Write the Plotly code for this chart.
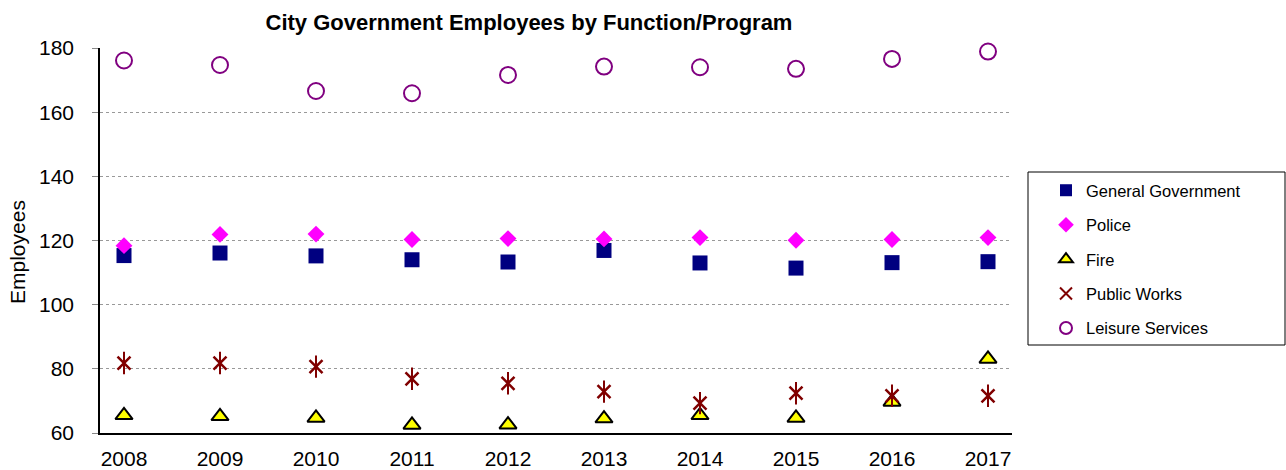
import plotly.graph_objects as go

years = [2008, 2009, 2010, 2011, 2012, 2013, 2014, 2015, 2016, 2017]
general_government = [115.3, 116.1, 115.2, 114.0, 113.3, 116.9, 113.0, 111.4, 113.1, 113.4]
police = [118.4, 121.9, 122.0, 120.3, 120.6, 120.5, 120.9, 120.1, 120.3, 120.9]
fire = [65.5, 65.2, 64.7, 62.5, 62.6, 64.5, 65.5, 64.7, 69.7, 83.1]
public_works = [81.8, 81.8, 80.7, 76.9, 75.5, 72.9, 69.3, 72.4, 71.6, 71.6]
leisure_services = [176.1, 174.7, 166.6, 165.9, 171.6, 174.2, 174.0, 173.5, 176.6, 178.9]

FONT = "Arial, Liberation Sans, sans-serif"

fig = go.Figure()
fig.add_trace(go.Scatter(x=years, y=general_government, mode="markers", name="General Government",
                         legendgroup="g1", cliponaxis=False,
                         marker=dict(symbol="square", size=15, color="#000080")))
fig.add_trace(go.Scatter(x=years, y=police, mode="markers", name="Police", legendgroup="g2",
                         cliponaxis=False,
                         marker=dict(symbol="diamond", size=13, color="#FF00FF")))
fig.add_trace(go.Scatter(x=years, y=fire, mode="markers", name="Fire", legendgroup="g3",
                         cliponaxis=False,
                         marker=dict(symbol="triangle-up", size=15, color="#FFFF00",
                                     line=dict(color="black", width=2))))
fig.add_trace(go.Scatter(x=years, y=public_works, mode="markers", name="Public Works", legendgroup="g4",
                         cliponaxis=False,
                         marker=dict(symbol="x-thin-open", size=13, color="#800000",
                                     line=dict(color="#800000", width=2.5))))
fig.add_trace(go.Scatter(x=years, y=public_works, mode="markers", name="Public Works", legendgroup="g4",
                         showlegend=False, hoverinfo="skip", cliponaxis=False,
                         marker=dict(symbol="line-ns-open", size=16, color="#800000",
                                     line=dict(color="#800000", width=2))))
fig.add_trace(go.Scatter(x=years, y=leisure_services, mode="markers", name="Leisure Services", legendgroup="g5",
                         cliponaxis=False,
                         marker=dict(symbol="circle-open", size=16, color="#800080",
                                     line=dict(color="#800080", width=2))))

PL, PR, PT, PB = 100, 1012, 48, 433
PW, PH = PR - PL, PB - PT

def px_x(x):
    return (x - PL) / PW

def px_y(y):
    return (PB - y) / PH

fig.update_layout(
    width=1286, height=470,
    margin=dict(l=PL, r=1286 - PR, t=PT, b=470 - PB, autoexpand=False),
    paper_bgcolor="white", plot_bgcolor="white",
    font=dict(family=FONT, color="black"),
    title=dict(text="<b>City Government Employees by Function/Program</b>",
               font=dict(size=22, family=FONT, color="black"),
               xref="paper", x=px_x(529), xanchor="center",
               yref="container", y=1 - 22 / 470, yanchor="middle"),
    xaxis=dict(range=[2007.75, 2017.25], tickmode="array", tickvals=years,
               ticktext=[str(y) for y in years], automargin=False,
               showgrid=False, zeroline=False, showline=True, linecolor="black", linewidth=1.5,
               ticks="", tickfont=dict(size=21), ticklabelstandoff=6),
    yaxis=dict(range=[60, 180], tickvals=[60, 80, 100, 120, 140, 160, 180], automargin=False,
               showgrid=True, gridcolor="#999999", griddash="dot", gridwidth=1,
               zeroline=False, showline=True, linecolor="black", linewidth=1.5,
               ticks="outside", ticklen=6, tickcolor="#888888",
               tickfont=dict(size=21), ticklabelstandoff=14),
    annotations=[dict(text="Employees", xref="paper", yref="paper",
                      x=px_x(18), y=px_y(252), xanchor="center", yanchor="middle",
                      textangle=-90, showarrow=False, font=dict(size=21, family=FONT))],
    legend=dict(x=px_x(1046), xanchor="left", y=px_y(173), yanchor="top",
                borderwidth=0, bgcolor="rgba(0,0,0,0)",
                font=dict(size=16.5, family=FONT), tracegroupgap=10,
                itemsizing="constant", itemwidth=30),
    shapes=[dict(type="rect", xref="paper", yref="paper",
                 x0=px_x(1028), x1=px_x(1285), y0=px_y(345), y1=px_y(172),
                 line=dict(color="black", width=1), fillcolor="rgba(0,0,0,0)", layer="below")],
    showlegend=True,
)

fig.write_html("out.html", config={"displayModeBar": False},
               post_script="document.body.style.margin='0';")
